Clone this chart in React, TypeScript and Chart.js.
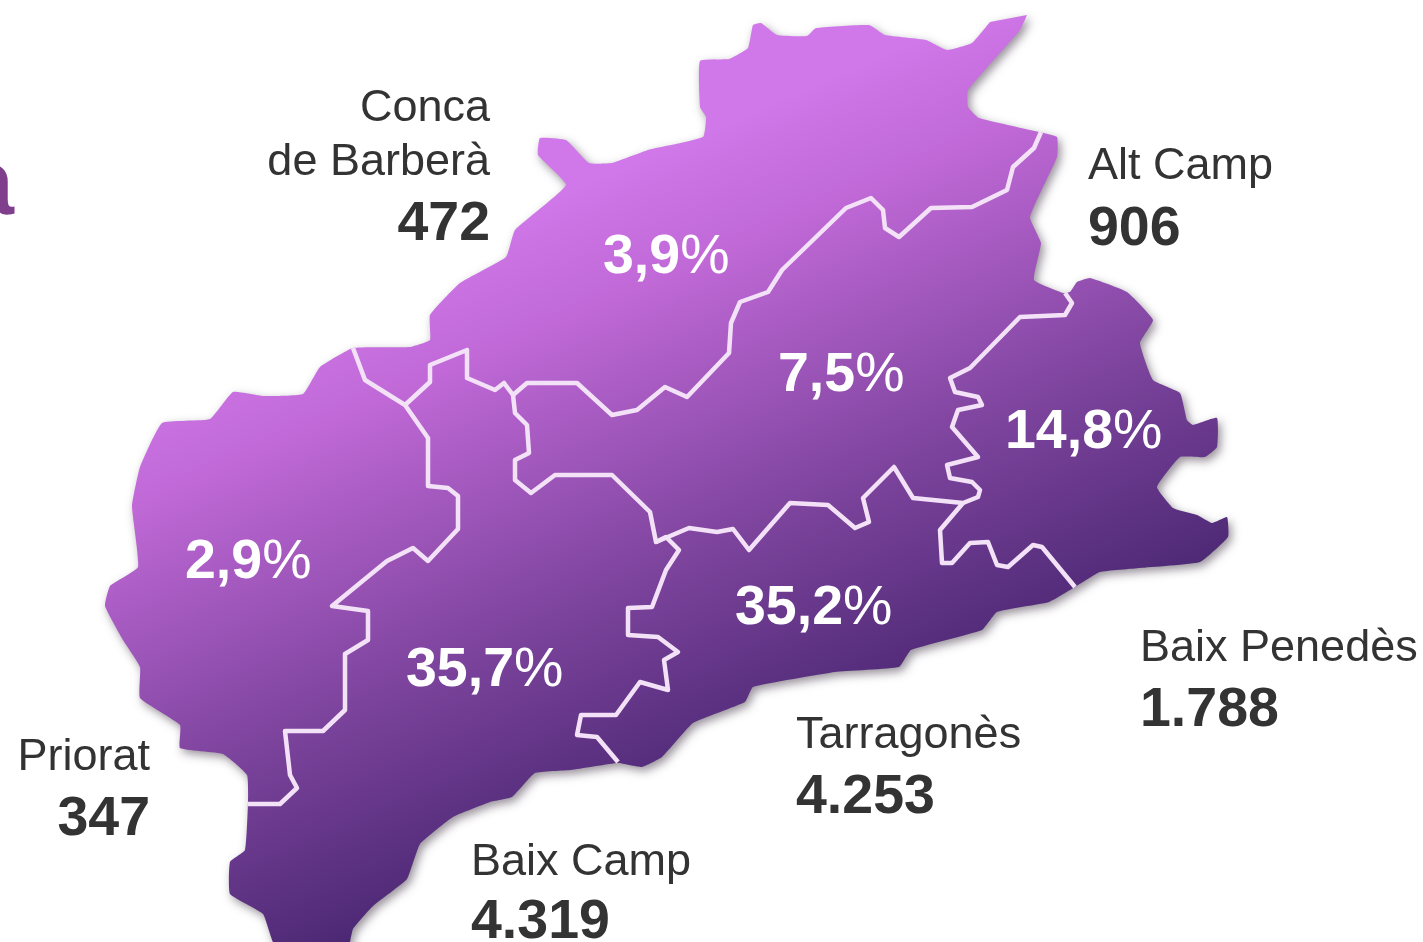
import React, { useEffect, useRef } from "react";
import { Chart, registerables } from "chart.js";

Chart.register(...registerables);

type P = [number, number];

const regions = ["Conca\nde Barberà", "Alt Camp", "Priorat", "Baix Camp", "Tarragonès", "Baix Penedès"];
const counts = ["472", "906", "347", "4.319", "4.253", "1.788"];
const shares = ["3,9", "7,5", "2,9", "35,7", "35,2", "14,8"];

const outline: P[] = [
  [1027, 15], [1020, 30], [968, 90], [968, 107], [979, 118], [1039, 132], [1057, 137], [1057, 157], [1030, 217],
  [1041, 243], [1034, 280], [1063, 293], [1070, 292], [1077, 282], [1090, 278], [1127, 292], [1153, 320],
  [1140, 343], [1153, 380], [1180, 393], [1187, 420], [1193, 425], [1217, 418], [1217, 447], [1205, 457],
  [1180, 457], [1157, 487], [1173, 508], [1197, 515], [1212, 523], [1227, 517], [1228, 537], [1200, 562],
  [1140, 568], [1100, 572], [1075, 587], [1049, 602], [997, 612], [982, 630], [911, 650], [899, 667], [835, 672],
  [753, 687], [745, 702], [693, 723], [662, 757], [642, 767], [618, 763], [571, 770], [535, 773], [512, 797],
  [490, 802], [453, 817], [420, 844], [407, 879], [373, 906], [353, 929], [347, 950], [277, 950], [263, 914],
  [230, 894], [230, 862], [245, 850], [248, 802], [247, 775], [223, 754], [180, 748], [180, 725], [140, 698],
  [140, 667], [123, 640], [105, 606], [110, 586], [138, 567], [132, 506], [140, 467], [162, 423], [210, 419],
  [233, 392], [263, 396], [303, 394], [320, 367], [353, 348], [410, 347], [430, 340], [430, 315], [460, 283],
  [506, 257], [515, 230], [566, 185], [538, 155], [540, 138], [566, 140], [589, 163], [612, 163], [648, 150],
  [703, 137], [706, 117], [700, 107], [700, 61], [729, 59], [748, 48], [753, 25], [761, 23], [777, 35],
  [807, 36], [816, 28], [869, 25], [885, 35], [926, 40], [947, 50], [972, 43], [990, 22],
];

const prioratBorder: P[] = [
  [353, 348], [365, 380], [405, 405], [428, 438], [428, 486], [448, 488], [458, 496], [458, 529], [428, 561],
  [413, 548], [387, 561], [332, 606], [368, 611], [368, 640], [345, 654], [345, 710], [323, 731], [285, 731],
  [290, 775], [297, 788], [280, 804], [248, 804],
];
const concaCampBorder: P[] = [
  [405, 405], [430, 382], [430, 365], [467, 350], [467, 378], [495, 390], [504, 383], [513, 395],
];
const concaAltBorder: P[] = [
  [513, 395], [527, 383], [577, 383], [612, 415], [637, 410], [665, 387], [687, 397], [729, 353], [731, 323],
  [740, 302], [768, 292], [782, 270], [846, 208], [871, 198], [883, 210], [885, 228], [899, 237], [931, 208],
  [972, 207], [1007, 190], [1013, 167], [1034, 148], [1041, 132],
];
const altSouthBorder: P[] = [
  [513, 395], [515, 413], [527, 425], [529, 453], [515, 460], [515, 480], [531, 493], [555, 475], [612, 475],
  [650, 512], [656, 542], [689, 528], [717, 532], [733, 529], [749, 550], [790, 503], [828, 505], [855, 528],
  [869, 522], [863, 498], [894, 467], [913, 498], [963, 503], [978, 497], [980, 490], [972, 482], [950, 478],
  [947, 465], [978, 457], [952, 427], [958, 410], [982, 405], [978, 397], [955, 392], [950, 378], [970, 368],
  [1020, 317], [1065, 315], [1072, 303], [1065, 293],
];
const penedesBorder: P[] = [
  [963, 503], [940, 530], [942, 563], [952, 563], [970, 543], [988, 542], [997, 565], [1008, 567], [1033, 545],
  [1042, 547], [1075, 587],
];
const campTarragonesBorder: P[] = [
  [656, 542], [666, 537], [679, 550], [666, 570], [652, 607], [628, 608], [628, 635], [658, 637], [678, 652],
  [664, 660], [668, 690], [640, 682], [616, 715], [581, 715], [577, 735], [597, 737], [618, 762],
];
const borders = [prioratBorder, concaCampBorder, concaAltBorder, altSouthBorder, penedesBorder, campTarragonesBorder];

// Anchors in axis units, same order as the regions above
const nameAnchors: P[] = [[490, 121], [1088, 179], [150, 770], [471, 875], [796, 748], [1140, 661]];
const countBaselines = [240, 245, 835, 938, 813, 726];
const rightAligned = [true, false, true, false, false, false];
const shareAnchors: P[] = [[603, 273], [778, 391], [185, 578], [406, 686], [735, 624], [1005, 448]];

const FONT = '"Liberation Sans", Arial, sans-serif';

const toPts = (a: P[]) => a.map(([x, y]) => ({ x, y }));

const mapPlugin = {
  id: "mapDecor",
  beforeDatasetsDraw(chart: any) {
    const c = chart.ctx;
    c.shadowColor = "rgba(50,35,55,0.5)";
    c.shadowBlur = 10;
    c.shadowOffsetX = 3;
    c.shadowOffsetY = 4;
  },
  afterDatasetDraw(chart: any) {
    const c = chart.ctx;
    c.shadowColor = "rgba(0,0,0,0)";
    c.shadowBlur = 0;
    c.shadowOffsetX = 0;
    c.shadowOffsetY = 0;
  },
  afterDatasetsDraw(chart: any) {
    const c = chart.ctx;
    const sx = chart.scales.x;
    const sy = chart.scales.y;
    c.save();
    c.textBaseline = "alphabetic";

    // Cropped heading letter at the left edge
    c.fillStyle = "#7f3f8c";
    c.font = `bold 92px ${FONT}`;
    c.textAlign = "right";
    c.fillText("a", sx.getPixelForValue(14), sy.getPixelForValue(214));

    regions.forEach((name, i) => {
      const [ax, ay] = nameAnchors[i];
      c.fillStyle = "#333333";
      c.textAlign = rightAligned[i] ? "right" : "left";
      c.font = `45px ${FONT}`;
      name.split("\n").forEach((ln, j) => {
        c.fillText(ln, sx.getPixelForValue(ax), sy.getPixelForValue(ay + j * 54));
      });
      c.font = `bold 55.5px ${FONT}`;
      c.fillText(counts[i], sx.getPixelForValue(ax), sy.getPixelForValue(countBaselines[i]));
    });

    c.fillStyle = "#ffffff";
    c.textAlign = "left";
    shares.forEach((s, i) => {
      const [ax, ay] = shareAnchors[i];
      const px = sx.getPixelForValue(ax);
      const py = sy.getPixelForValue(ay);
      c.font = `bold 55.5px ${FONT}`;
      c.fillText(s, px, py);
      const w = c.measureText(s).width;
      c.font = `55.5px ${FONT}`;
      c.fillText("%", px + w, py);
    });
    c.restore();
  },
};

export default function App() {
  const ref = useRef<HTMLCanvasElement>(null);
  useEffect(() => {
    const canvas = ref.current!;
    const ctx = canvas.getContext("2d")!;
    const g = ctx.createLinearGradient(160, 368, 400, 920);
    g.addColorStop(0, "#d077e9");
    g.addColorStop(0.2, "#bf68d6");
    g.addColorStop(0.62, "#7f459f");
    g.addColorStop(1, "#4c2874");
    const chart = new Chart(canvas, {
      type: "scatter",
      data: {
        datasets: [
          {
            data: toPts(outline),
            showLine: true,
            fill: "shape",
            backgroundColor: g,
            borderWidth: 0,
            pointRadius: 0,
            tension: 0.12,
            order: 10,
          },
          ...borders.map((b) => ({
            data: toPts(b),
            showLine: true,
            fill: false,
            borderColor: "#f3e2f7",
            borderWidth: 4.5,
            borderJoinStyle: "round",
            pointRadius: 0,
            tension: 0,
            order: 1,
          })),
        ],
      } as any,
      options: {
        animation: false,
        responsive: false,
        layout: { padding: 0 },
        plugins: { legend: { display: false }, tooltip: { enabled: false } },
        scales: {
          x: { type: "linear", min: 0, max: 1423, display: false },
          y: { type: "linear", min: 0, max: 942, reverse: true, display: false },
        },
      },
      plugins: [mapPlugin],
    } as any);
    return () => chart.destroy();
  }, []);
  return (
    <div style={{ position: "fixed", left: 0, top: 0, width: 1423, height: 942, background: "#fff" }}>
      <canvas ref={ref} width={1423} height={942} style={{ display: "block" }} />
    </div>
  );
}
